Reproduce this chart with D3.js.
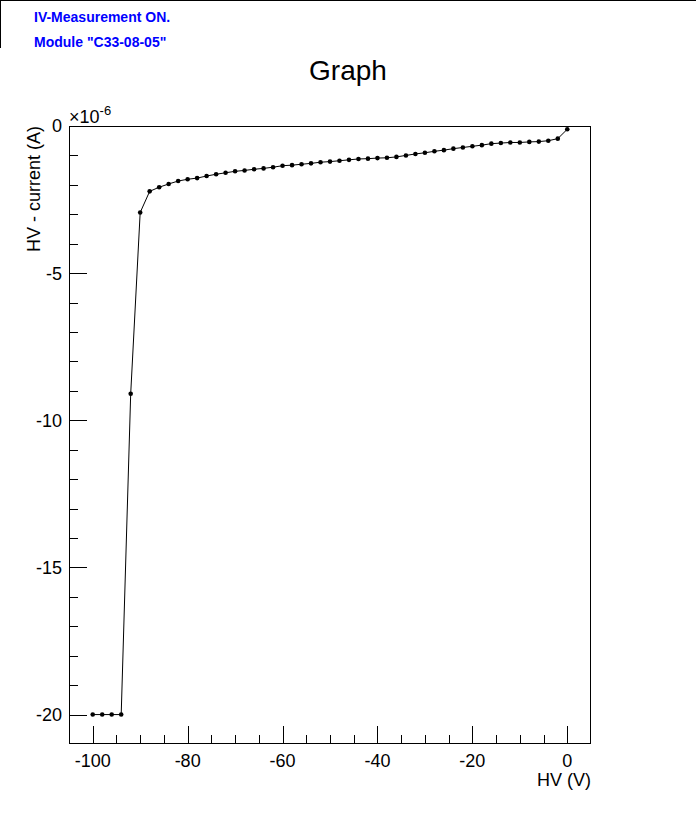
<!DOCTYPE html>
<html>
<head>
<meta charset="utf-8">
<script src="https://cdn.jsdelivr.net/npm/d3@7"></script>
<style>
html,body{margin:0;padding:0;background:#fff;}
svg{display:block;font-family:"Liberation Sans",Arial,sans-serif;}
</style>
</head>
<body>
<svg id="chart" width="696" height="822"></svg>
<script>
const voltages = [-100,-98,-96,-94,-92,-90,-88,-86,-84,-82,-80,-78,-76,-74,-72,-70,-68,-66,-64,-62,-60,-58,-56,-54,-52,-50,-48,-46,-44,-42,-40,-38,-36,-34,-32,-30,-28,-26,-24,-22,-20,-18,-16,-14,-12,-10,-8,-6,-4,-2,0];
const currents = [-20.0,-20.0,-20.0,-20.0,-9.10,-2.94,-2.22,-2.08,-1.97,-1.87,-1.81,-1.77,-1.70,-1.64,-1.59,-1.54,-1.51,-1.47,-1.44,-1.40,-1.35,-1.33,-1.30,-1.27,-1.23,-1.21,-1.18,-1.15,-1.12,-1.11,-1.09,-1.08,-1.05,-1.00,-0.95,-0.91,-0.86,-0.82,-0.77,-0.73,-0.69,-0.65,-0.60,-0.58,-0.56,-0.56,-0.54,-0.53,-0.50,-0.43,-0.11];
const xTickLabels = [-100,-80,-60,-40,-20,0];
const yTickLabels = [0,-5,-10,-15,-20];
const infoLines = ["IV-Measurement ON.", "Module \"C33-08-05\""];

const svg = d3.select("#chart");
const L = 69, R = 591, T = 126, B = 744;
const x = d3.scaleLinear().domain([-105, 5]).range([L, R]);
const y = d3.scaleLinear().domain([-21, 0]).range([B, T]);

// top-left info pave
svg.append("line").attr("x1",0).attr("x2",696).attr("y1",0.5).attr("y2",0.5).attr("stroke","#000");
svg.append("line").attr("x1",0.5).attr("x2",0.5).attr("y1",0).attr("y2",48).attr("stroke","#000");
svg.selectAll("text.info").data(infoLines).enter().append("text")
  .attr("class","info")
  .attr("x",34).attr("y",(d,i)=>22+i*25)
  .attr("fill","#0000ff").attr("font-weight","bold").attr("font-size","14px")
  .text(d=>d);

// title
svg.append("text").attr("x",348).attr("y",80).attr("text-anchor","middle")
  .attr("font-size","28px").text("Graph");

// frame
svg.append("rect").attr("x",L+0.5).attr("y",T+0.5).attr("width",R-L-1).attr("height",B-T-1)
  .attr("fill","none").attr("stroke","#000").attr("stroke-width",1);

// x ticks
const xMinor = d3.range(-100, 0.01, 5);
svg.append("g").selectAll("line").data(xMinor).enter().append("line")
  .attr("x1",d=>Math.round(x(d))+0.5).attr("x2",d=>Math.round(x(d))+0.5)
  .attr("y1",B-1).attr("y2",d=>B-1-(d%20===0?17:8))
  .attr("stroke","#000");
svg.append("g").selectAll("text").data(xTickLabels).enter().append("text")
  .attr("x",d=>x(d)).attr("y",767).attr("text-anchor","middle")
  .attr("font-size","18px").text(d=>d);
svg.append("text").attr("x",R).attr("y",786).attr("text-anchor","end")
  .attr("font-size","18px").text("HV (V)");

// y ticks
const yMinor = d3.range(-20, 0.01, 1);
svg.append("g").selectAll("line").data(yMinor).enter().append("line")
  .attr("y1",d=>Math.round(y(d))+0.5).attr("y2",d=>Math.round(y(d))+0.5)
  .attr("x1",L+1).attr("x2",d=>L+1+(d%5===0?17:8))
  .attr("stroke","#000");
svg.append("g").selectAll("text").data(yTickLabels).enter().append("text")
  .attr("x",62).attr("y",d=>y(d)).attr("dy","0.36em").attr("text-anchor","end")
  .attr("font-size","18px").text(d=>d);
const mult = svg.append("text").attr("x",69).attr("y",123).attr("font-size","18px");
mult.append("tspan").text("\u00d710");
mult.append("tspan").attr("font-size","13px").attr("dy","-8").text("-6");
svg.append("text").attr("transform","translate(40,126) rotate(-90)")
  .attr("text-anchor","end").attr("font-size","18px").text("HV - current (A)");

// data
const pts = voltages.map((v,i)=>[v,currents[i]]);
svg.append("path").datum(pts)
  .attr("d", d3.line().x(d=>x(d[0])).y(d=>y(d[1])))
  .attr("fill","none").attr("stroke","#000").attr("stroke-width",1);
svg.append("g").selectAll("circle").data(pts).enter().append("circle")
  .attr("cx",d=>x(d[0])).attr("cy",d=>y(d[1])).attr("r",2.3).attr("fill","#000");
</script>
</body>
</html>
